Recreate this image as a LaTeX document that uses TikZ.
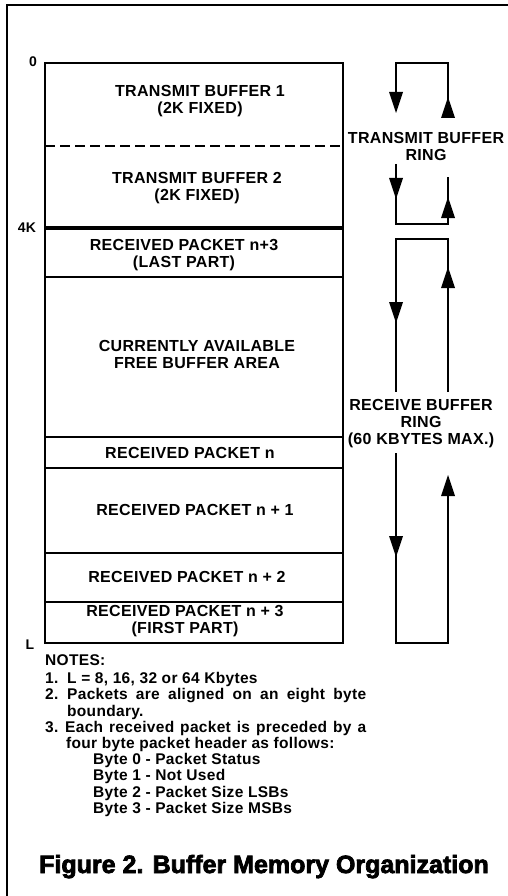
\documentclass[tikz,border=0pt]{standalone}
\usepackage{fontspec}
\setmainfont{Liberation Sans}
\newfontfamily\lblfont{Liberation Sans Bold}[LetterSpace=2]
\newfontfamily\heavy{Liberation Sans Bold}[FakeBold=3]
\usetikzlibrary{arrows.meta}
\tikzset{
  lbl/.style={align=center, inner sep=0pt, font=\lblfont\fontsize{16}{17}\selectfont},
  addr/.style={inner sep=0pt, font=\lblfont\fontsize{14}{14}\selectfont},
  sepline/.style={line width=2.2pt},
  ring/.style={line width=1.6pt, line join=miter},
  tipdown/.pic={\fill (0,0) -- (-7,-21) -- (7,-21) -- cycle;},
  tipup/.pic={\fill (0,0) -- (-7,21) -- (7,21) -- cycle;}
}
\begin{document}
\begin{tikzpicture}[x=1pt,y=-1pt]
\useasboundingbox (0,0) rectangle (508,896);
\fill[white] (0,0) rectangle (508,896);
% scan frame
\draw[line width=1.2pt] (7,896) -- (7,5) -- (508,5);
% memory box
\coordinate (bl) at (45,63);
\coordinate (br) at (343,643);
\draw[line width=2.6pt] (bl) rectangle (br);
\draw[line width=1.6pt, dash pattern=on 10pt off 5pt] (45,146) -- (343,146);
\draw[line width=4pt] (45,228) -- (343,228);
\foreach \y in {277,437,468,553,602} \draw[sepline] (45,\y) -- (343,\y);
% region labels
\node[lbl] (tb1) at (200,101) {TRANSMIT BUFFER 1\\(2K FIXED)};
\node[lbl] (tb2) at (197,188.5) {TRANSMIT BUFFER 2\\(2K FIXED)};
\node[lbl] (rp3l) at (184,255) {RECEIVED PACKET n+3\\(LAST PART)};
\node[lbl] (free) at (197,354.5) {CURRENTLY AVAILABLE\\FREE BUFFER AREA};
\node[lbl] (rpn) at (190,453) {RECEIVED PACKET n};
\node[lbl] (rpn1) at (195,510) {RECEIVED PACKET n + 1};
\node[lbl] (rpn2) at (187,577) {RECEIVED PACKET n + 2};
\node[lbl] (rp3f) at (185,621.5) {RECEIVED PACKET n + 3\\(FIRST PART)};
% addresses
\node[addr] (a0) at (33,62) {0};
\node[addr] (a4k) at (27,228) {4K};
\node[addr] (aL) at (30,645) {L};
% transmit ring
\draw[ring] (448,115) -- (448,63) -- (396,63) -- (396,100);
\pic at (396,113) {tipdown};
\pic at (448,97) {tipup};
\draw[ring] (396,164) -- (396,224) -- (448,224) -- (448,177);
\pic at (396,199) {tipdown};
\pic at (448,197) {tipup};
\node[lbl] (tring) at (426,146) {TRANSMIT BUFFER\\RING};
% receive ring
\draw[ring] (448,392) -- (448,239) -- (396,239) -- (396,392);
\pic at (448,267) {tipup};
\pic at (396,323) {tipdown};
\draw[ring] (396,453) -- (396,643) -- (448,643) -- (448,490);
\pic at (396,557) {tipdown};
\pic at (448,475) {tipup};
\node[lbl] (rring) at (421,424) {RECEIVE BUFFER\\RING\\(60 KBYTES MAX.)};
% notes
\node[inner sep=0pt, anchor=north west, align=left,
      font=\lblfont\fontsize{15.5}{16.2}\selectfont] (notes) at (45,654) {%
NOTES:\\[2.5pt]
\makebox[22pt][l]{1.}L = 8, 16, 32 or 64 Kbytes\\
\makebox[321pt][s]{\makebox[22pt][l]{2.}Packets are aligned on an eight byte}\\
\hspace*{22pt}boundary.\\
\makebox[321pt][s]{\makebox[20pt][l]{3.}Each received packet is preceded by a}\\
\hspace*{21pt}four byte packet header as follows:\\
\hspace*{48pt}Byte 0 - Packet Status\\
\hspace*{48pt}Byte 1 - Not Used\\
\hspace*{48pt}Byte 2 - Packet Size LSBs\\
\hspace*{48pt}Byte 3 - Packet Size MSBs};
% caption
\node[inner sep=0pt, anchor=base, font=\heavy\fontsize{25}{25}\selectfont] (cap) at (264,873) {Figure 2. Buffer Memory Organization};
\end{tikzpicture}
\end{document}
